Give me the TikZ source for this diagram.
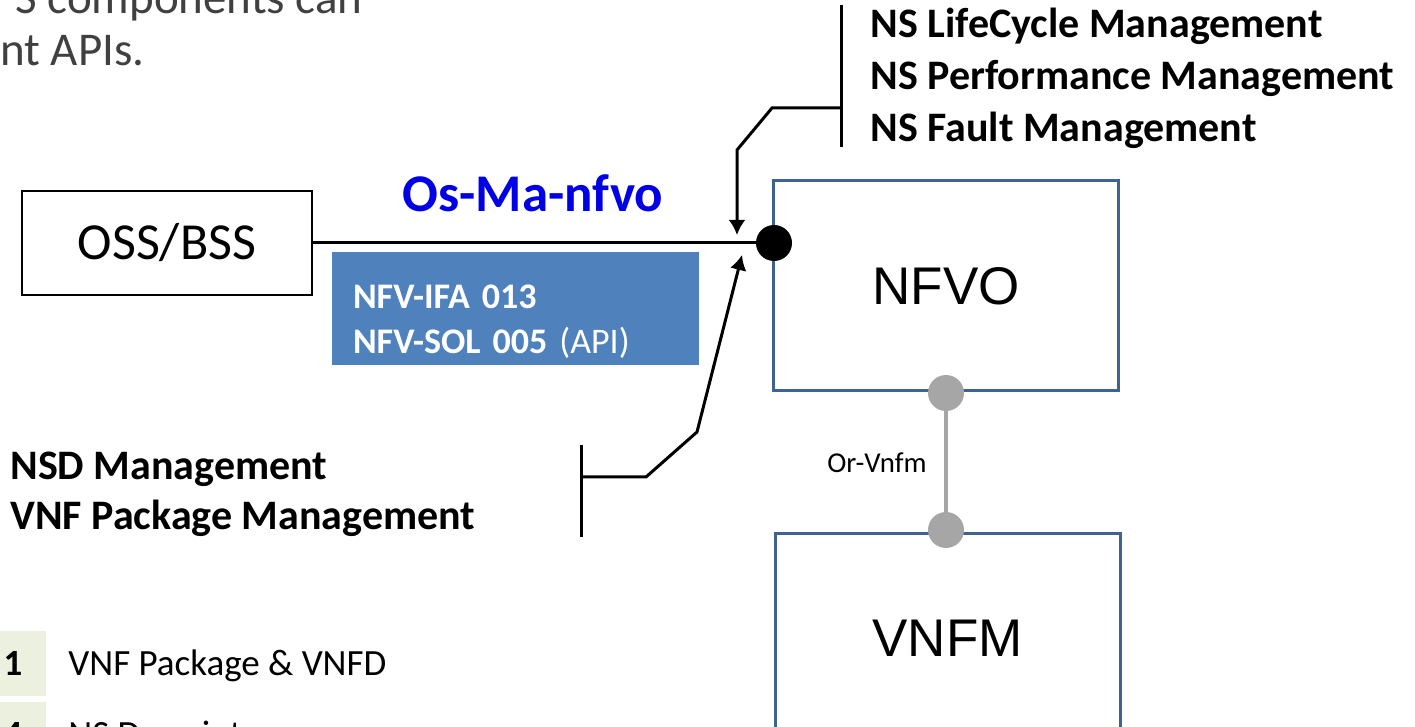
\documentclass[tikz,border=0pt]{standalone}
\usepackage{fontspec}
\setmainfont{Carlito}
\newfontfamily\arialfont{Liberation Sans}
\usetikzlibrary{arrows.meta,positioning}
\definecolor{nfvoline}{RGB}{63,98,145}
\definecolor{apibox}{RGB}{79,129,189}
\definecolor{osmablue}{RGB}{0,0,230}
\definecolor{dotgray}{RGB}{166,166,166}
\definecolor{legendgreen}{RGB}{235,241,222}
\definecolor{textgray}{RGB}{64,64,64}

\begin{document}
\begin{tikzpicture}[x=0.5pt,y=-0.5pt,>={Latex[length=7.5pt,width=8.5pt]}]
        \tikzstyle{box}=[draw=nfvoline,line width=1.5pt,minimum width=172.5pt,minimum height=105pt,font=\arialfont\fontsize{26.5}{30}\selectfont]
        \tikzstyle{dot}=[circle,fill=dotgray,minimum size=18pt,inner sep=0pt]
        \tikzstyle{ops}=[font=\bfseries\fontsize{21}{26}\selectfont,align=left,inner sep=0pt]
        \tikzstyle{legend}=[fill=legendgreen,minimum width=33pt,minimum height=32.5pt,font=\bfseries\fontsize{18.5}{22}\selectfont]
        \tikzstyle{intro}=[anchor=base east,inner sep=0pt,text=textgray,font=\fontsize{23.5}{27}\selectfont]
        \tikzstyle{item}=[anchor=base west,inner sep=0pt,font=\fontsize{18.5}{22}\selectfont]
        \tikzstyle{bar}=[line width=1.5pt]

        \useasboundingbox (0,0) rectangle (1415,727);

        \node[intro] (T01) at (363,14) {S components can};
        \node[intro] (T02) at (145,66) {nt APIs.};

        \node[draw,line width=0.9pt,minimum width=145pt,minimum height=52pt,font=\fontsize{26}{30}\selectfont] (OSS) at (167,243) {OSS/BSS};
        \node[box]  (NFVO) at (946,286)   {NFVO};
        \node[box]  (VNFM) at (947.5,638) {VNFM};
        \node[circle,fill=black,minimum size=18pt,inner sep=0pt] (D01) at (774,243) {};
        \node[dot]  (D02) at (946,393) {};
        \node[dot]  (D03) at (946,530) {};

        \node[anchor=base,text=osmablue,font=\bfseries\fontsize{26.5}{30}\selectfont] (OSMA) at (533,212) {Os-Ma-nfvo};
        \node[fill=apibox,text=white,text width=162.5pt,inner xsep=10.5pt,minimum height=54.5pt,align=left,font=\fontsize{18}{22.5}\selectfont] (API) at (515.5,308.5)
                {\rule{0pt}{24.5pt}\textbf{NFV-IFA 013}\\\textbf{NFV-SOL 005} (API)};
        \node[font=\fontsize{14.4}{17}\selectfont] (ORV) at (877,463) {Or-Vnfm};

        % last line is the base of a multi-line node
        \node[ops,anchor=base west] (OPS1) at (870,142) {NS LifeCycle Management\\NS Performance Management\\NS Fault Management};
        \node[ops,anchor=base west,font=\bfseries\fontsize{21}{25}\selectfont] (OPS2) at (10,530) {NSD Management\\VNF Package Management};

        % legend
        \node[legend] (L01) at (13,663.5) {1};
        \node[legend] (L04) at (13,734.5) {4};
        \node[item] (N01) at (68,675) {VNF Package \& VNFD};
        \node[item] (N04) at (68,746) {NS Descriptor};

        \coordinate (B01) at (841,5);
        \coordinate (B02) at (841,147);
        \coordinate (B03) at (841,108);
        \coordinate (B04) at (772,108);
        \coordinate (B05) at (737,150);
        \coordinate (A01) at (737,235);
        \coordinate (B06) at (581,445);
        \coordinate (B07) at (581,537);
        \coordinate (B08) at (581,477);
        \coordinate (B09) at (646,477);
        \coordinate (B10) at (697,432);
        \coordinate (A02) at (742,255);

        \draw[line width=1.5pt] (OSS) -- (D01);
        \draw[dotgray,line width=2pt] (D02) -- (D03);
        \draw[bar] (B01) -- (B02);
        \draw[bar,->] (B03) -- (B04) -- (B05) -- (A01);
        \draw[bar] (B06) -- (B07);
        \draw[bar,->] (B08) -- (B09) -- (B10) -- (A02);
\end{tikzpicture}
\end{document}
